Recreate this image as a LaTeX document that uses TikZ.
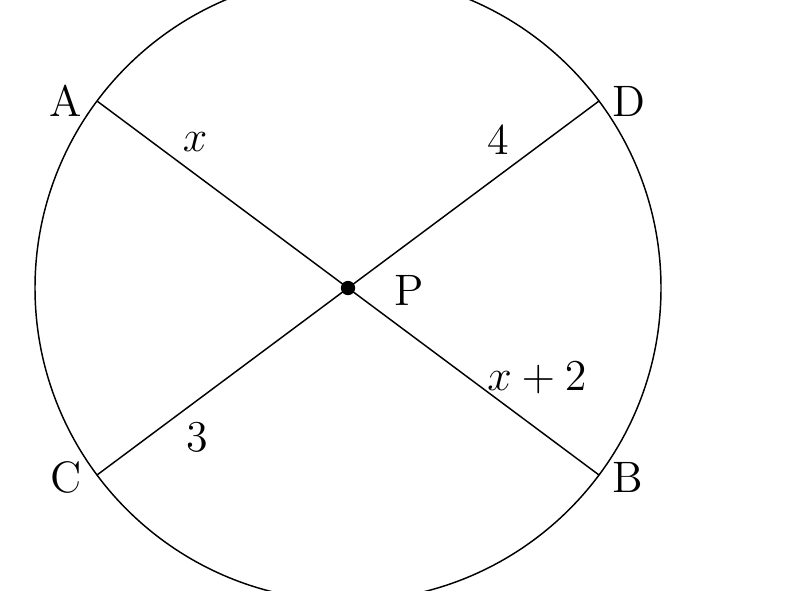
\documentclass[tikz,border=0pt]{standalone}
\begin{document}
\begin{tikzpicture}[x=0.009585cm, y=-0.009585cm, font=\large,
  lbl/.style={inner sep=0pt},
  dot/.style={circle, fill=black, inner sep=0pt, minimum size=3.9pt}]
\useasboundingbox (0,0) rectangle (788,590);
\clip (0,0) rectangle (788,590);
\node[dot] (P) at (348,288) {};
\draw (P.center) circle [radius=313];
\coordinate (A) at (97,101);
\coordinate (D) at (599,101);
\coordinate (C) at (97,475);
\coordinate (B) at (599,475);
\draw (A) -- (B);
\draw (C) -- (D);
\node[lbl] (lA) at (66,101) {A};
\node[lbl] (lD) at (629,101) {D};
\node[lbl] (lC) at (66,477) {C};
\node[lbl] (lB) at (628,477) {B};
\node[lbl] (lP) at (409,290) {P};
\node[lbl] (lx) at (195,142) {$x$};
\node[lbl] (l4) at (498,140) {$4$};
\node[lbl] (lx2) at (537,378) {$x+2$};
\node[lbl] (l3) at (197,437) {$3$};
\end{tikzpicture}
\end{document}
